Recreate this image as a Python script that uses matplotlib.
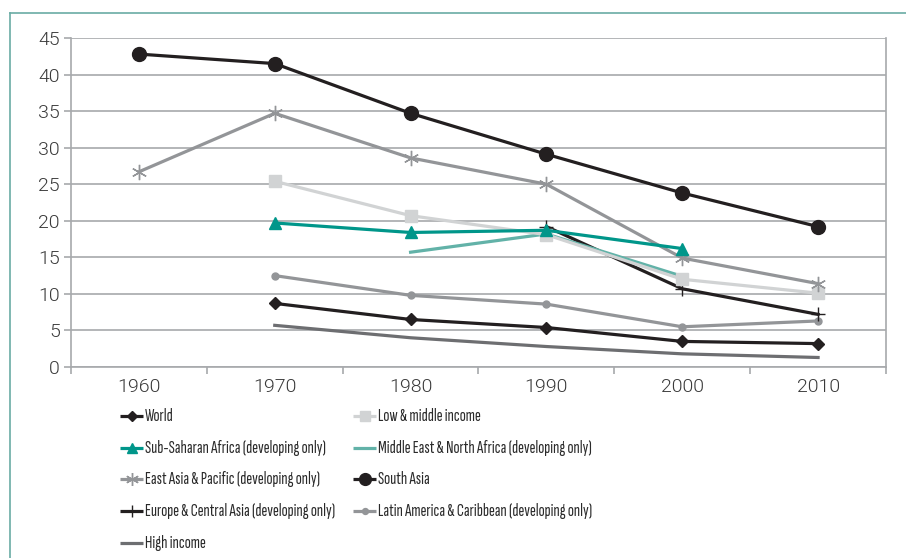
import matplotlib
matplotlib.use("Agg")
import matplotlib.pyplot as plt
from matplotlib import font_manager
from matplotlib.lines import Line2D
import numpy as np

years = ["1960", "1970", "1980", "1990", "2000", "2010"]
nan = np.nan
world = [nan, 8.7, 6.5, 5.4, 3.5, 3.2]
low_mid = [nan, 25.4, 20.7, 18.1, 12.0, 10.1]
ssa = [nan, 19.7, 18.4, 18.7, 16.2, nan]
mena = [nan, nan, 15.7, 18.2, 12.4, nan]
eap = [26.7, 34.7, 28.6, 25.0, 14.9, 11.4]
south_asia = [42.8, 41.5, 34.7, 29.1, 23.8, 19.2]
eca = [nan, nan, nan, 19.2, 10.7, 7.2]
lac = [nan, 12.5, 9.8, 8.6, 5.5, 6.3]
high = [nan, 5.7, 4.0, 2.8, 1.8, 1.3]

names = ["World", "Low & middle income", "Sub-Saharan Africa (developing only)",
         "Middle East & North Africa (developing only)", "East Asia & Pacific (developing only)",
         "South Asia", "Europe & Central Asia (developing only)",
         "Latin America & Caribbean (developing only)", "High income"]

avail = {f.name for f in font_manager.fontManager.ttflist}
tick_font = "Roboto" if "Roboto" in avail else "DejaVu Sans"
leg_font = next((f for f in ["Sofia Sans Extra Condensed", "Fira Sans Extra Condensed", "Barlow Condensed",
                             "Roboto Condensed"] if f in avail), "DejaVu Sans")

BLACK = "#231f20"
TEAL = "#00968a"
MENA_C = "#62b2a8"
GRAY = "#939598"
LIGHT = "#d1d3d4"
DARK = "#6d6e71"
W, H = 906, 558

fig = plt.figure(figsize=(W / 100, H / 100), dpi=100)
fx = lambda px: px / W
fy = lambda py: 1 - py / H
# outer teal frame
fig.add_artist(Line2D([fx(10), fx(10)], [0, fy(13)], transform=fig.transFigure, color="#6aaca4", lw=1.2))
fig.add_artist(Line2D([fx(10), 1], [fy(13), fy(13)], transform=fig.transFigure, color="#6aaca4", lw=1.2))

ax = fig.add_axes([fx(71), fy(367), (886 - 71) / W, (367 - 38) / H])
x = np.arange(len(years))

lw = 2.3
series = {
    names[8]: (high, dict(color=DARK, marker=None)),
    names[0]: (world, dict(color=BLACK, marker="D", ms=6)),
    names[7]: (lac, dict(color=GRAY, marker="o", ms=5)),
    names[6]: (eca, dict(color=BLACK, marker="+", ms=10, mew=1.0)),
    names[3]: (mena, dict(color=MENA_C, marker=None)),
    names[1]: (low_mid, dict(color=LIGHT, marker="s", ms=9)),
    names[4]: (eap, dict(color=GRAY, marker=(6, 2, 0), ms=11, mew=1.0)),
    names[2]: (ssa, dict(color=TEAL, marker="^", ms=9)),
    names[5]: (south_asia, dict(color=BLACK, marker="o", ms=10)),
}
for nm, (vals, kw) in series.items():
    ax.plot(x, vals, lw=lw, clip_on=False, zorder=3, **kw)

ax.set_xlim(-0.5, 5.5)
ax.set_ylim(0, 45)
tick_kw = dict(fontfamily=tick_font, fontsize=14, fontweight=300, color="#3a3a3a")
yt = np.arange(0, 46, 5)
ax.set_yticks(yt)
ax.set_yticklabels([str(v) for v in yt], **tick_kw)
ax.set_xticks(x)
ax.set_xticklabels(years, **tick_kw)
ax.set_xticks(np.arange(-0.5, 5.6, 1), minor=True)
ax.yaxis.grid(True, color="#a7a9ac", lw=1.2)
ax.set_axisbelow(True)
for s in ["left", "bottom", "right"]:
    ax.spines[s].set_color("#a7a9ac")
    ax.spines[s].set_linewidth(1.2)
ax.spines["top"].set_visible(False)
ax.tick_params(axis="x", which="major", length=0, pad=8)
ax.tick_params(axis="x", which="minor", length=5, color="#a7a9ac", width=1.2)
ax.tick_params(axis="y", length=5, color="#a7a9ac", width=1.2, pad=3)

# legend, drawn as two columns of line samples and labels
col1 = [names[0], names[2], names[4], names[6], names[8]]
col2 = [names[1], names[3], names[5], names[7]]
rows_y = [416, 448, 479, 511, 543]
leg_size = 12
renderer = fig.canvas.get_renderer()
probe = fig.text(0, 0, names[6], family=leg_font, fontsize=leg_size)
wpx = probe.get_window_extent(renderer).width
probe.remove()
leg_size = min(leg_size * 191 / wpx, 13)

for col, x0 in ((col1, 120), (col2, 353)):
    for nm, yy in zip(col, rows_y):
        vals, kw = series[nm]
        kw2 = dict(kw)
        if kw2.get("ms"):
            kw2["ms"] = kw2["ms"] * 0.85
        fig.add_artist(Line2D([fx(x0), fx(x0 + 23)], [fy(yy), fy(yy)], transform=fig.transFigure,
                              lw=lw, solid_capstyle="butt", **{k: v for k, v in kw2.items() if k != "marker"}))
        if kw2.get("marker") is not None:
            fig.add_artist(Line2D([fx(x0 + 11.5)], [fy(yy)], transform=fig.transFigure, lw=0,
                                  **kw2))
        fig.text(fx(x0 + 25), fy(yy), nm, family=leg_font, fontsize=leg_size,
                 color="#2a2a2a", va="center", ha="left")

fig.savefig("out.png", dpi=100)
